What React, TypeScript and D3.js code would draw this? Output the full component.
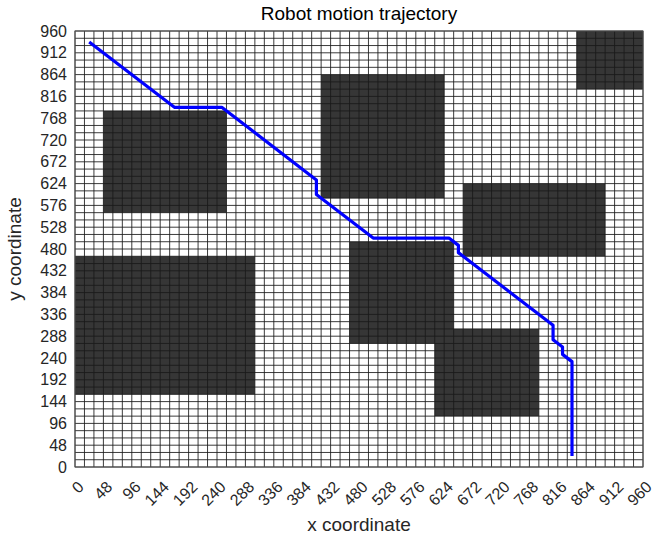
import React from "react";
import * as d3 from "d3";

const TITLE = "Robot motion trajectory";
const X_LABEL = "x coordinate";
const Y_LABEL = "y coordinate";
const DOMAIN_MAX = 960;
const CELL = 16;
const TICKS = [0, 48, 96, 144, 192, 240, 288, 336, 384, 432, 480, 528, 576, 624, 672, 720, 768, 816, 864, 912, 960];

// obstacles: [x0, x1, y0, y1]
const OBSTACLES: [number, number, number, number][] = [
  [48, 256, 560, 784],
  [0, 304, 160, 464],
  [416, 624, 592, 864],
  [656, 896, 464, 624],
  [464, 640, 272, 496],
  [608, 784, 112, 304],
  [848, 960, 832, 960],
];

const PATH_X = [24, 168, 248, 408, 408, 504, 632, 648, 648, 808, 808, 824, 824, 840, 840];
const PATH_Y = [936, 792, 792, 632, 600, 504, 504, 488, 472, 312, 280, 264, 248, 232, 24];

const W = 665;
const H = 537;
const M = { left: 75, right: 22, top: 31, bottom: 70 };

export default function App() {
  const x = d3.scaleLinear().domain([0, DOMAIN_MAX]).range([M.left, W - M.right]);
  const y = d3.scaleLinear().domain([0, DOMAIN_MAX]).range([H - M.bottom, M.top]);
  const gridVals = d3.range(0, DOMAIN_MAX + 1, CELL);
  const line = d3
    .line<number>()
    .x((_, i) => x(PATH_X[i]))
    .y((_, i) => y(PATH_Y[i]));
  const font = "'Liberation Sans', Arial, sans-serif";
  const cx = (x(0) + x(DOMAIN_MAX)) / 2;
  const cy = (y(0) + y(DOMAIN_MAX)) / 2;
  return (
    <svg width={W} height={H} style={{ position: "absolute", left: 0, top: 0, background: "#fff" }} fontFamily={font}>
      <rect x={0} y={0} width={W} height={H} fill="#fff" />
      {OBSTACLES.map((o, i) => (
        <rect key={i} x={x(o[0])} y={y(o[3])} width={x(o[1]) - x(o[0])} height={y(o[2]) - y(o[3])} fill="#363636" />
      ))}
      <g stroke="#1a1a1a" strokeWidth={1} strokeOpacity={0.85}>
        {gridVals.map((v) => (
          <line key={"vx" + v} x1={x(v)} x2={x(v)} y1={y(0)} y2={y(DOMAIN_MAX)} />
        ))}
        {gridVals.map((v) => (
          <line key={"hy" + v} x1={x(0)} x2={x(DOMAIN_MAX)} y1={y(v)} y2={y(v)} />
        ))}
      </g>
      <rect x={x(0)} y={y(DOMAIN_MAX)} width={x(DOMAIN_MAX) - x(0)} height={y(0) - y(DOMAIN_MAX)} fill="none" stroke="#555" strokeWidth={1} />
      <path d={line(PATH_X as any) || ""} fill="none" stroke="#0000ff" strokeWidth={3.2} strokeLinejoin="round" />
      {TICKS.map((t) => (
        <text key={"yt" + t} x={x(0) - 8} y={y(t)} textAnchor="end" dominantBaseline="central" fontSize={16} fill="#262626">
          {t}
        </text>
      ))}
      {TICKS.map((t) => (
        <text
          key={"xt" + t}
          transform={`translate(${x(t) + 6},${y(0) + 17}) rotate(-45)`}
          textAnchor="end"
          dominantBaseline="central"
          fontSize={16}
          fill="#262626"
        >
          {t}
        </text>
      ))}
      <text x={cx} y={20} textAnchor="middle" fontSize={19} fill="#000">
        {TITLE}
      </text>
      <text x={cx} y={531} textAnchor="middle" fontSize={19} fill="#262626">
        {X_LABEL}
      </text>
      <text transform={`translate(21,${cy}) rotate(-90)`} textAnchor="middle" fontSize={19} fill="#262626">
        {Y_LABEL}
      </text>
    </svg>
  );
}
